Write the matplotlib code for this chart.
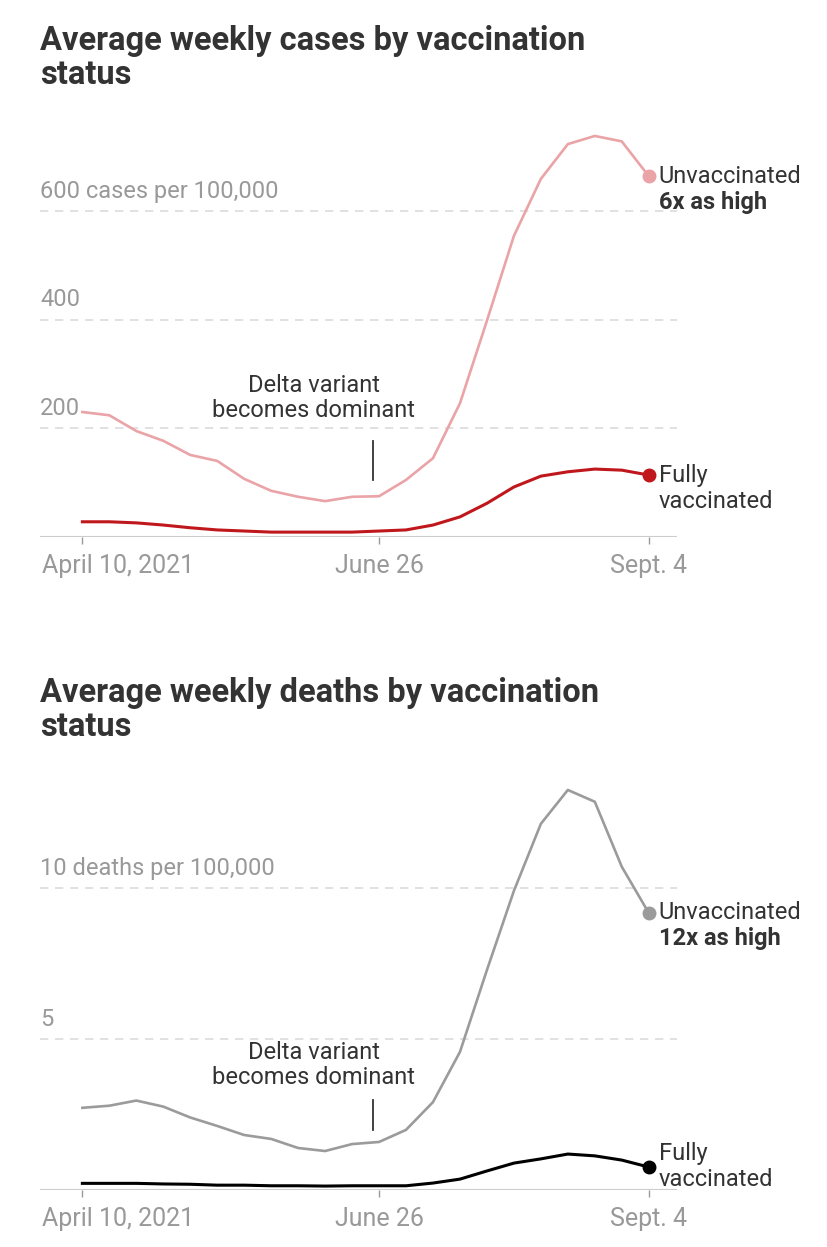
import matplotlib
matplotlib.use('agg')

import matplotlib.pyplot as plt
import matplotlib.transforms as mtransforms
import numpy as np
import pandas as pd

plt.rcParams['font.family'] = ['Roboto', 'DejaVu Sans']

# weekly values, April 10 to Sept. 4, 2021
weeks = pd.date_range('2021-04-10', '2021-09-04', freq='7D')

cases_unvax = [230, 224, 195, 177, 151, 140, 107, 85, 74, 66, 74, 75,
               105, 145, 246, 398, 554, 659, 723, 738, 728, 664]
cases_vax = [28, 28, 26, 22, 17, 13, 11, 9, 9, 9, 9, 11,
             13, 22, 37, 62, 92, 112, 120, 125, 123, 114]

deaths_unvax = [2.72, 2.79, 2.96, 2.76, 2.40, 2.12, 1.82, 1.69, 1.39, 1.29, 1.52, 1.59,
                1.99, 2.91, 4.57, 7.28, 9.90, 12.12, 13.24, 12.85, 10.70, 9.17]
deaths_vax = [0.22, 0.22, 0.22, 0.20, 0.19, 0.16, 0.16, 0.14, 0.14, 0.13, 0.14, 0.14,
              0.14, 0.23, 0.36, 0.63, 0.89, 1.03, 1.19, 1.13, 0.99, 0.76]

tick_dates = [pd.Timestamp('2021-04-10'), pd.Timestamp('2021-06-26'), pd.Timestamp('2021-09-04')]
tick_labels = ['April 10, 2021', 'June 26', 'Sept. 4']

DARK = '#333333'
GRAY_TXT = '#999999'
GRID = '#dcdcdc'
FS = 17

fig = plt.figure(figsize=(8.28, 12.47), dpi=100)


def panel(rect, title, title_y, unvax, vax, c_unvax, c_vax, gridvals, gridlabels,
          ymax, ratio_label, delta_y, delta_line, fully_shift=0):
    ax = fig.add_axes(rect)
    x0 = pd.Timestamp('2021-03-30')
    x1 = pd.Timestamp('2021-09-11 08:00')
    ax.set_xlim(x0, x1)
    ax.set_ylim(0, ymax)
    for s in ax.spines.values():
        s.set_visible(False)
    ax.set_yticks([])
    ax.set_xticks(tick_dates)
    ax.set_xticklabels(['', tick_labels[1], tick_labels[2]])
    ax.tick_params(axis='x', length=5, width=1, color='#999999', colors=GRAY_TXT,
                   labelsize=18, pad=7)
    ax.annotate(tick_labels[0], (0, 0), xycoords='axes fraction', xytext=(1.5, -12),
                textcoords='offset points', ha='left', va='top',
                fontsize=18, color=GRAY_TXT)

    ax.axhline(0, color='#cccccc', lw=1.5, zorder=1)
    for g, lab in zip(gridvals, gridlabels):
        ax.axhline(g, color=GRID, lw=1.2, ls=(0, (5, 4)), zorder=0)
        ax.annotate(lab, (0, g), xycoords=('axes fraction', 'data'), xytext=(0, 6),
                    textcoords='offset points', ha='left', va='bottom',
                    fontsize=FS, color=GRAY_TXT)

    ax.plot(weeks, unvax, color=c_unvax, lw=1.9, zorder=3, clip_on=False)
    ax.plot(weeks, vax, color=c_vax, lw=2.2, zorder=4, clip_on=False)
    ax.plot(weeks[-1], unvax[-1], 'o', color=c_unvax, ms=9, zorder=5, clip_on=False)
    ax.plot(weeks[-1], vax[-1], 'o', color=c_vax, ms=9, zorder=5, clip_on=False)

    off = mtransforms.offset_copy(ax.transData, fig=fig, x=10, y=0, units='dots')
    off2 = mtransforms.offset_copy(ax.transData, fig=fig, x=10, y=-26, units='dots')
    ax.text(weeks[-1], unvax[-1], 'Unvaccinated', transform=off, ha='left', va='center',
            fontsize=FS, color=DARK)
    ax.text(weeks[-1], unvax[-1], ratio_label, transform=off2, ha='left', va='center',
            fontsize=FS, color=DARK, fontweight='bold')

    offf = mtransforms.offset_copy(ax.transData, fig=fig, x=10, y=fully_shift, units='dots')
    offf2 = mtransforms.offset_copy(ax.transData, fig=fig, x=10, y=fully_shift - 26,
                                    units='dots')
    ax.text(weeks[-1], vax[-1], 'Fully', transform=offf, ha='left', va='center',
            fontsize=FS, color=DARK)
    ax.text(weeks[-1], vax[-1], 'vaccinated', transform=offf2, ha='left', va='center',
            fontsize=FS, color=DARK)

    # Delta annotation
    ax.text(pd.Timestamp('2021-06-09'), delta_y, 'Delta variant\nbecomes dominant',
            ha='center', va='center', fontsize=FS, color=DARK, linespacing=1.15)
    ax.plot([pd.Timestamp('2021-06-24 12:00')] * 2, delta_line, color=DARK, lw=1.3)

    fig.text(40 / 828, title_y, title, ha='left', va='top', fontsize=23.5,
             fontweight='bold', color=DARK, linespacing=1.1)
    return ax


panel([40 / 828, 1 - 537 / 1247, 637 / 828, 413 / 1247],
      'Average weekly cases by vaccination\nstatus', 1 - 25 / 1247,
      cases_unvax, cases_vax, '#eaa3a6', '#c0171c',
      [200, 400, 600], ['200', '400', '600 cases per 100,000'],
      760, '6x as high', 256, [177, 105])

panel([40 / 828, 1 - 1190 / 1247, 637 / 828, 423 / 1247],
      'Average weekly deaths by vaccination\nstatus', 1 - 677 / 1247,
      deaths_unvax, deaths_vax, '#9b9b9b', '#000000',
      [5, 10], ['5', '10 deaths per 100,000'],
      14, '12x as high', 4.14, [2.98, 1.99], fully_shift=14)

fig.savefig('out.png', dpi=100, facecolor='white')
